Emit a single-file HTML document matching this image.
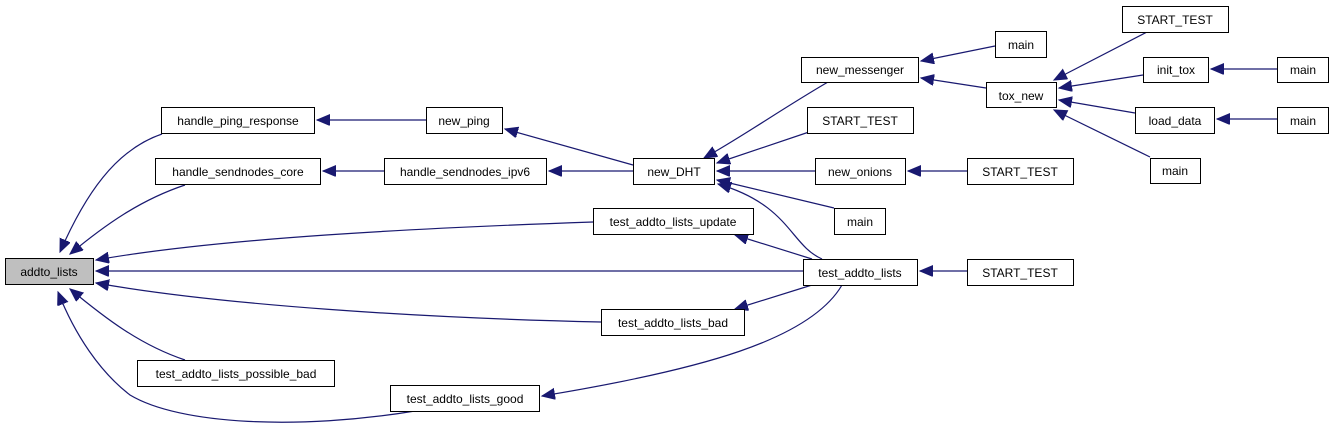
<!DOCTYPE html>
<html><head><meta charset="utf-8"><style>
html,body{margin:0;padding:0;background:#fff;}
svg{display:block;}
text{font-family:"Liberation Sans",sans-serif;font-size:12px;fill:#000;}
</style></head><body>
<svg width="1332" height="434" viewBox="0 0 1332 434" xmlns="http://www.w3.org/2000/svg">
<defs>
<marker id="a" markerUnits="userSpaceOnUse" markerWidth="16" markerHeight="12" refX="13" refY="5.5" orient="auto">
<path d="M0,0 L13,5.5 L0,11 Z" fill="#191970" stroke="#191970"/>
</marker>
</defs>
<g fill="none" stroke="#191970" stroke-width="1.2" marker-end="url(#a)">
<path d="M162,134 C115,150 85,195 60,252"/>
<path d="M185,185 C140,200 105,225 70,254"/>
<path d="M593,222 C420,228 220,238 96,260"/>
<path d="M803,271 L96,271"/>
<path d="M601,322 C420,318 220,305 96,283"/>
<path d="M185,360 C140,345 105,318 70,289"/>
<path d="M415,411 C300,430 180,425 130,395 C100,372 75,335 58,292"/>
<path d="M426,120 L317,120"/>
<path d="M384,171 L323,171"/>
<path d="M633,165 L505,129"/>
<path d="M633,171 L549,171"/>
<path d="M828,82 C780,110 745,135 704,158"/>
<path d="M812,131 L717,163"/>
<path d="M815,171 L717,171"/>
<path d="M834,208 L717,180"/>
<path d="M822,259 C790,245 790,205 718,184"/>
<path d="M812,259 L735,235"/>
<path d="M812,285 L735,309"/>
<path d="M842,285 C810,340 700,370 542,396"/>
<path d="M967,271 L920,271"/>
<path d="M967,171 L908,171"/>
<path d="M995,46 L921,61"/>
<path d="M986,88 L921,78"/>
<path d="M1147,32 L1054,80"/>
<path d="M1143,75 L1059,88"/>
<path d="M1135,113 L1059,100"/>
<path d="M1150,157 L1054,110"/>
<path d="M1277,69 L1211,69"/>
<path d="M1277,119 L1217,119"/>
</g>
<g stroke="#000" stroke-width="1" fill="#fff">
<rect x="5.5" y="258.5" width="88" height="26" fill="#bfbfbf"/>
<rect x="161.5" y="107.5" width="153" height="26"/>
<rect x="155.5" y="158.5" width="165" height="26"/>
<rect x="426.5" y="107.5" width="76" height="26"/>
<rect x="384.5" y="158.5" width="162" height="26"/>
<rect x="633.5" y="158.5" width="81" height="26"/>
<rect x="801.5" y="57.5" width="117" height="25"/>
<rect x="807.5" y="107.5" width="106" height="26"/>
<rect x="815.5" y="158.5" width="90" height="26"/>
<rect x="834.5" y="208.5" width="51" height="26"/>
<rect x="593.5" y="208.5" width="160" height="26"/>
<rect x="803.5" y="259.5" width="114" height="26"/>
<rect x="967.5" y="259.5" width="106" height="26"/>
<rect x="967.5" y="158.5" width="106" height="26"/>
<rect x="995.5" y="31.5" width="51" height="26"/>
<rect x="986.5" y="82.5" width="70" height="25"/>
<rect x="1122.5" y="6.5" width="106" height="26"/>
<rect x="1143.5" y="57.5" width="65" height="25"/>
<rect x="1277.5" y="57.5" width="51" height="25"/>
<rect x="1135.5" y="107.5" width="79" height="26"/>
<rect x="1277.5" y="107.5" width="51" height="26"/>
<rect x="1150.5" y="158.5" width="50" height="25"/>
<rect x="601.5" y="309.5" width="143" height="26"/>
<rect x="137.5" y="360.5" width="197" height="26"/>
<rect x="390.5" y="385.5" width="149" height="26"/>
</g>
<g text-anchor="middle">
<text x="49" y="276">addto_lists</text>
<text x="238" y="125">handle_ping_response</text>
<text x="238" y="176">handle_sendnodes_core</text>
<text x="464" y="125">new_ping</text>
<text x="465" y="176">handle_sendnodes_ipv6</text>
<text x="674" y="176">new_DHT</text>
<text x="860" y="74">new_messenger</text>
<text x="860" y="125">START_TEST</text>
<text x="860" y="176">new_onions</text>
<text x="860" y="226">main</text>
<text x="673" y="226">test_addto_lists_update</text>
<text x="860" y="277">test_addto_lists</text>
<text x="1020" y="277">START_TEST</text>
<text x="1020" y="176">START_TEST</text>
<text x="1021" y="49">main</text>
<text x="1021" y="100">tox_new</text>
<text x="1175" y="24">START_TEST</text>
<text x="1176" y="74">init_tox</text>
<text x="1303" y="74">main</text>
<text x="1175" y="125">load_data</text>
<text x="1303" y="125">main</text>
<text x="1175" y="175">main</text>
<text x="673" y="327">test_addto_lists_bad</text>
<text x="236" y="378">test_addto_lists_possible_bad</text>
<text x="465" y="403">test_addto_lists_good</text>
</g>
</svg>
</body></html>
